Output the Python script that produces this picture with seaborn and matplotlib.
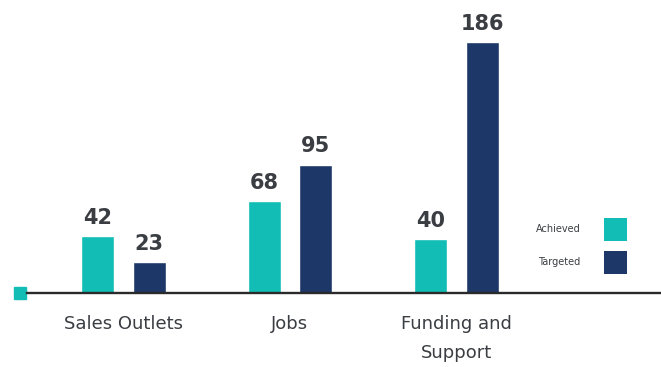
import matplotlib
matplotlib.use("Agg")
import matplotlib.pyplot as plt
from matplotlib.patches import Patch
import seaborn as sns
import pandas as pd

# Data
categories = ["Sales Outlets", "Jobs", "Funding and\nSupport"]
achieved = [42, 68, 40]
targeted = [23, 95, 186]
series_names = ["Achieved", "Targeted"]

TEAL = "#11BDB5"
NAVY = "#1D3768"
TEXT = "#3a3d42"

df = pd.DataFrame({
    "category": categories * 2,
    "series": [series_names[0]] * len(categories) + [series_names[1]] * len(categories),
    "value": achieved + targeted,
})

sns.set_theme(style="white")
plt.rcParams["font.family"] = ["DejaVu Sans"]

W, H = 661, 367
fig = plt.figure(figsize=(W / 100, H / 100), dpi=100)
ax = fig.add_axes([27 / W, 74 / H, 634 / W, 293 / H])

sns.barplot(
    data=df, x="category", y="value", hue="series",
    order=categories, hue_order=series_names,
    palette=[TEAL, NAVY], width=0.62, gap=0.36,
    saturation=1, legend=False, ax=ax,
)

for cont in ax.containers:
    ax.bar_label(cont, fmt="%d", padding=6, fontsize=15,
                 fontweight="bold", color=TEXT)

ax.set_xlim(-0.577, 3.225)
ax.set_ylim(0, 217)

ax.set_xlabel("")
ax.set_ylabel("")
ax.set_yticks([])
ax.tick_params(axis="x", length=0, pad=16, labelsize=13, labelcolor=TEXT)
for lbl in ax.get_xticklabels():
    lbl.set_linespacing(1.8)

for side in ("top", "left", "right"):
    ax.spines[side].set_visible(False)
ax.spines["bottom"].set_linewidth(1.7)
ax.spines["bottom"].set_color("#2a2a2a")

# small square marking the start of the baseline
ax.plot([-0.0106], [0], marker="s", markersize=9.2, color=TEAL,
        transform=ax.transAxes, clip_on=False, linestyle="none")

handles = [Patch(facecolor=TEAL, edgecolor="none"),
           Patch(facecolor=NAVY, edgecolor="none")]
fig.legend(
    handles, series_names, loc="upper right",
    bbox_to_anchor=(627 / W, 1 - 218 / H), bbox_transform=fig.transFigure,
    frameon=False, markerfirst=False, fontsize=7, labelcolor=TEXT,
    handlelength=2.37, handleheight=3.2, handletextpad=2.4,
    labelspacing=1.06, borderpad=0, borderaxespad=0,
)

fig.savefig("out.png", dpi=100)
